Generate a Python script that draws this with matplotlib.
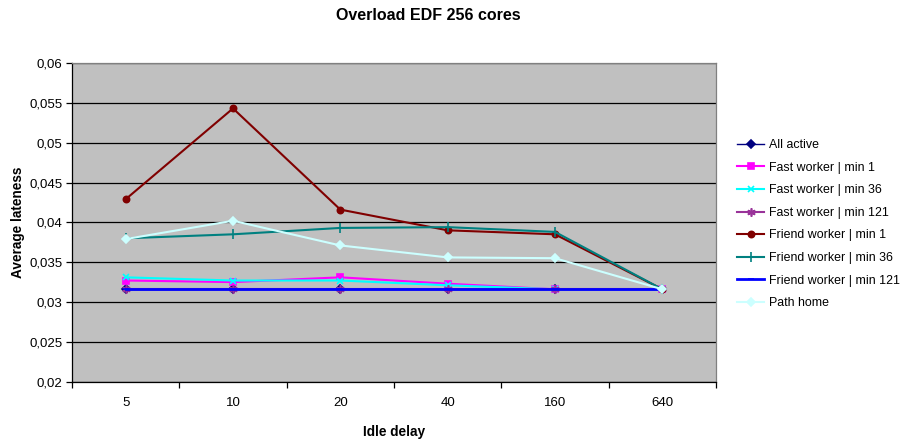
import matplotlib
matplotlib.use("Agg")
import matplotlib.pyplot as plt
from matplotlib.ticker import FixedLocator, FuncFormatter

plt.rcParams['font.family'] = ['Liberation Sans', 'DejaVu Sans']

categories = ["5", "10", "20", "40", "160", "640"]

all_active = [0.0316, 0.0316, 0.0316, 0.0316, 0.0316, 0.0316]
fast_min1 = [0.0327, 0.0325, 0.0331, 0.0323, 0.0316, 0.0316]
fast_min36 = [0.0331, 0.0327, 0.0327, 0.0321, 0.0316, 0.0316]
fast_min121 = [0.0316, 0.0316, 0.0316, 0.0316, 0.0316, 0.0316]
friend_min1 = [0.0429, 0.0543, 0.0416, 0.0390, 0.0385, 0.0316]
friend_min36 = [0.0380, 0.0385, 0.0393, 0.0394, 0.0388, 0.0316]
friend_min121 = [0.0316, 0.0316, 0.0316, 0.0316, 0.0316, 0.0316]
path_home = [0.0379, 0.0402, 0.0371, 0.0356, 0.0355, 0.0316]

series = [
    ("All active", all_active, "#000080", "D", 4, 1.0),
    ("Fast worker | min 1", fast_min1, "#FF00FF", "s", 4.5, 1.5),
    ("Fast worker | min 36", fast_min36, "#00FFFF", "x", 5, 1.5),
    ("Fast worker | min 121", fast_min121, "#993399", (6, 2, 0), 6, 1.5),
    ("Friend worker | min 1", friend_min1, "#800000", "o", 4.5, 1.5),
    ("Friend worker | min 36", friend_min36, "#008080", "|", 7, 1.5),
    ("Friend worker | min 121", friend_min121, "#0000FF", "_", 5, 2.0),
    ("Path home", path_home, "#CCFFFF", "D", 4, 1.5),
]

fig = plt.figure(figsize=(9.06, 4.44), dpi=100)
ax = fig.add_axes([72 / 906, 1 - 381.7 / 444, (716 - 72) / 906, (381.7 - 63) / 444])
ax.set_facecolor("#C0C0C0")

x = list(range(len(categories)))
for i, (name, vals, color, marker, ms, lw) in enumerate(series):
    ax.plot(x, vals, color=color, lw=lw, marker=marker, markersize=ms,
            markeredgewidth=1.2, markerfacecolor=color, markeredgecolor=color,
            label=name, zorder=3 + i * 0.1)

ax.set_xlim(-0.5, len(categories) - 0.5)
ax.set_ylim(0.02, 0.06)
ax.set_yticks([0.02 + 0.005 * k for k in range(9)])
ax.yaxis.set_major_formatter(FuncFormatter(lambda v, p: ("%g" % round(v, 4)).replace(".", ",")))
ax.yaxis.grid(True, color="black", lw=0.9)
ax.set_axisbelow(True)

ax.xaxis.set_major_locator(FixedLocator(x))
ax.set_xticklabels(categories)
ax.xaxis.set_minor_locator(FixedLocator([k + 0.5 for k in range(-1, len(categories))]))
ax.tick_params(axis="x", which="major", length=0, pad=11, labelsize=9.5)
ax.tick_params(axis="x", which="minor", length=4, width=0.9, color="black")
ax.tick_params(axis="y", length=4, width=0.9, color="black", labelsize=9.5, pad=3)

for side in ["left", "bottom"]:
    ax.spines[side].set_color("black")
    ax.spines[side].set_linewidth(0.9)
for side in ["top", "right"]:
    ax.spines[side].set_color("#808080")
    ax.spines[side].set_linewidth(0.9)

ax.set_xlabel("Idle delay", fontsize=9.8, fontweight="bold", va="center")
ax.xaxis.set_label_coords(0.5, (381.7 - 432) / 318.7)
ax.set_ylabel("Average lateness", fontsize=9.8, fontweight="bold", va="center")
ax.yaxis.set_label_coords((18 - 72) / 644, 0.5)

fig.text(428 / 906, 1 - 15 / 444, "Overload EDF 256 cores", ha="center", va="center",
         fontsize=11.5, fontweight="bold")

leg = fig.legend(loc="upper left", bbox_to_anchor=(732 / 906, 1 - 134 / 444),
                 frameon=False, fontsize=8.9, handlelength=2.2, handletextpad=0.4,
                 labelspacing=0.86, borderaxespad=0)

fig.savefig("out.png", dpi=100)
